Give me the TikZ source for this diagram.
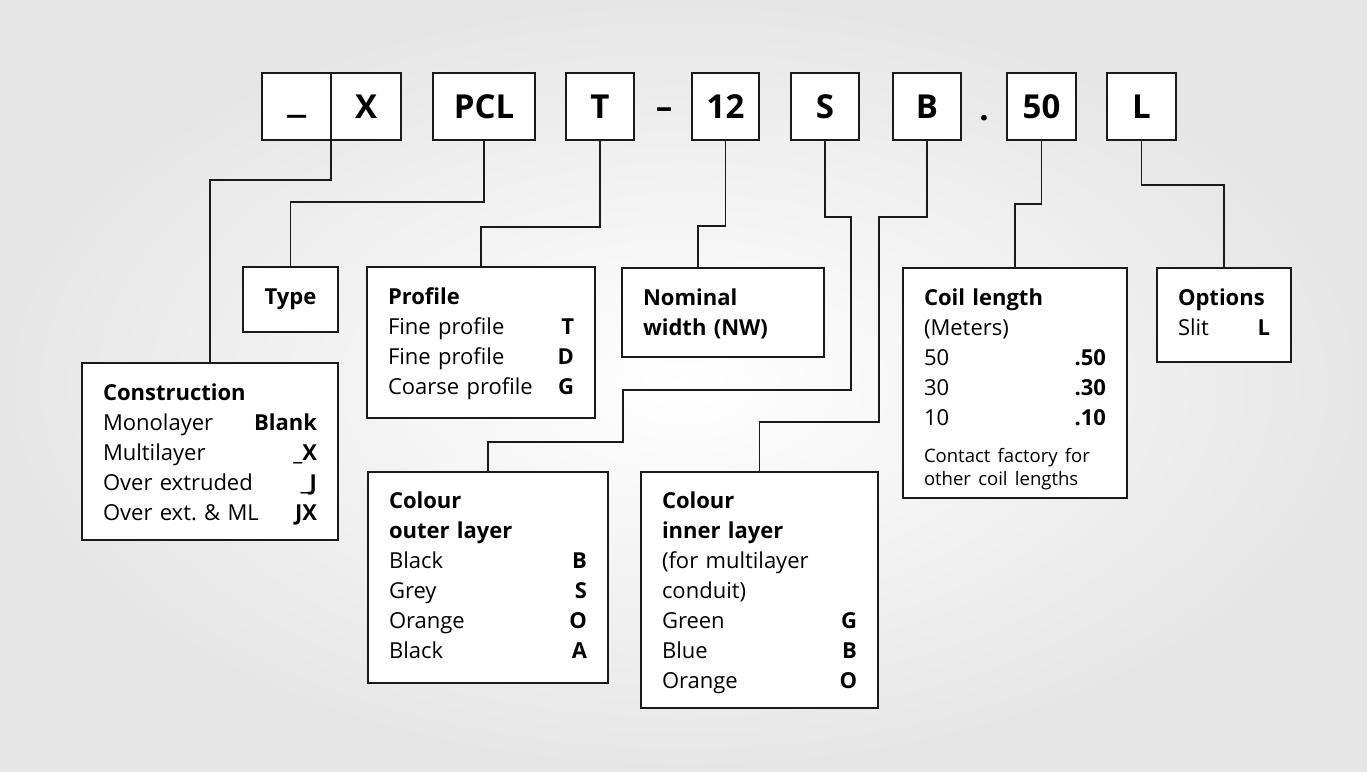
\documentclass[tikz,border=0pt]{standalone}
\usepackage{fontspec}
\usepackage{graphicx}
\setmainfont{Open Sans}
\definecolor{ce6e6e6}{RGB}{230,230,230}
\definecolor{cffffff}{RGB}{255,255,255}
\definecolor{c1a1a1a}{RGB}{26,26,26}
\tikzset{
  codebox/.style={draw=c1a1a1a, fill=cffffff, line width=1.6pt, minimum height=67pt,
    font=\fontsize{33}{36}\selectfont\bfseries, anchor=north west},
  infobox/.style={draw=c1a1a1a, fill=cffffff, line width=1.6pt, inner xsep=21pt,
    align=left, font=\fontsize{22}{30}\selectfont, anchor=north west,
    text height=37pt, text depth=#1},
  leader/.style={draw=c1a1a1a, line width=1.6pt},
  sep/.style={font=\fontsize{33}{36}\selectfont\bfseries, anchor=base}
}
\newcommand\optrow[2]{\makebox[\linewidth][l]{#1\hfill\textbf{#2}}}

\begin{document}
\begin{tikzpicture}[y=1pt, x=1pt, yscale=-1.000000, xscale=1.000000, inner sep=0pt, outer sep=0pt]
\begin{scope}% background
  \shade[inner color=cffffff, outer color=ce6e6e6] (0,0) rectangle (1367,771);
\end{scope}
\begin{scope}% code
  % box_u
  \node[codebox, minimum width=69pt] (cu) at (262,73) {\vphantom{X}\raisebox{6pt}{\scalebox{1.4}[1.3]{\_}}};
  % box_x
  \node[codebox, minimum width=70pt] (cx) at (331,73) {X};
  % box_pcl
  \node[codebox, minimum width=102pt] (cpcl) at (433,73) {PCL};
  % box_t
  \node[codebox, minimum width=68pt] (ct) at (566,73) {T};
  \node[sep] (cdash) at (664,118) {--};
  % box_12
  \node[codebox, minimum width=67pt] (cnw) at (692,73) {12};
  % box_s
  \node[codebox, minimum width=68pt] (cs) at (791,73) {S};
  % box_b
  \node[codebox, minimum width=68pt] (cb) at (893,73) {B};
  \node[sep] (cdot) at (984,120) {.};
  % box_50
  \node[codebox, minimum width=69pt] (clen) at (1007,73) {50};
  % box_l
  \node[codebox, minimum width=69pt] (cl) at (1107,73) {L};
\end{scope}
\begin{scope}% legend
  % construction
  \node[infobox=140pt, text width=214pt] (con) at (82,363) {\textbf{Construction}\\
    \optrow{Monolayer}{Blank}\\ \optrow{Multilayer}{\_X}\\
    \optrow{Over extruded}{\_J}\\ \optrow{Over ext.\ \& ML}{JX}};
  % type
  \node[draw=c1a1a1a, fill=cffffff, line width=1.6pt, minimum width=95pt, minimum height=65pt,
    anchor=north west, font=\fontsize{22}{30}\selectfont\bfseries] (type) at (243,267) {Type};
  % profile
  \node[infobox=114pt, text width=186pt] (prof) at (367,267) {\textbf{Profile}\\
    \optrow{Fine profile}{T}\\ \optrow{Fine profile}{D}\\ \optrow{Coarse profile}{G}};
  % nominal width
  \node[infobox=52pt, text width=160pt] (nom) at (622,268) {\textbf{Nominal}\\ \textbf{width (NW)}};
  % colour outer
  \node[infobox=175pt, text width=198pt, text height=36pt] (outer) at (368,472) {\textbf{Colour}\\
    \textbf{outer layer}\\ \optrow{Black}{B}\\ \optrow{Grey}{S}\\ \optrow{Orange}{O}\\ \optrow{Black}{A}};
  % colour inner
  \node[infobox=200pt, text width=195pt, text height=36pt] (inner) at (641,472) {\textbf{Colour}\\
    \textbf{inner layer}\\ (for multilayer\\ conduit)\\ \optrow{Green}{G}\\ \optrow{Blue}{B}\\
    \optrow{Orange}{O}};
  % coil length
  \node[infobox=193pt, text width=182pt] (coil) at (903,268) {\textbf{Coil length}\\ (Meters)\\
    \optrow{50}{.50}\\ \optrow{30}{.30}\\ \optrow{10}{.10}\par\vspace{14.5pt}%
    {\fontsize{18.5}{23}\selectfont Contact factory for\\ other coil lengths\par}};
  % options
  \node[infobox=57pt, text width=92pt] (opt) at (1157,268) {\textbf{Options}\\ \optrow{Slit}{L}};
\end{scope}
\begin{scope}% leaders
  \path[leader] (cx.south west) -- ++(0,40) -| (con.north);
  \path[leader] (cpcl.south) -- ++(0,62) -| (type.north);
  \path[leader] (ct.south) -- ++(0,87) -| (prof.north);
  \path[leader] (cnw.south) -- ++(0,86) -| ([xshift=-25pt]nom.north);
  \path[leader] (cs.south) -- ++(0,77) -| ++(26,173) -| ++(-228,52) -| (outer.north);
  \path[leader] (cb.south) -- ++(0,77) -| ++(-48,205) -| (inner.north);
  \path[leader] (clen.south) -- ++(0,64) -| (coil.north);
  \path[leader] (cl.south) -- ++(0,45) -| (opt.north);
\end{scope}
\end{tikzpicture}
\end{document}
